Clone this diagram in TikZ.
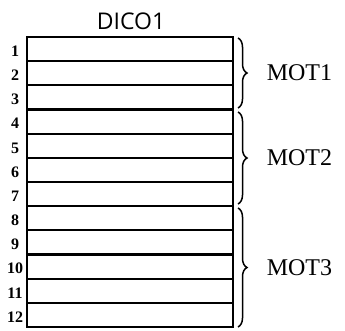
\documentclass[tikz,border=0pt]{standalone}
\usepackage{fontspec}
\setmainfont{Liberation Serif}
\setsansfont{Open Sans}
\usetikzlibrary{decorations.pathreplacing}

\tikzset{
  rowline/.style={line width=2.2pt},
  numlabel/.style={font=\fontsize{16}{16}\selectfont\bfseries, inner sep=0pt},
  motlabel/.style={font=\fontsize{24}{24}\selectfont, anchor=west, inner sep=0pt},
  motbrace/.style={decorate, decoration={brace, amplitude=9pt}, line width=1.5pt},
}

\begin{document}
\begin{tikzpicture}[x=1pt,y=-1pt]
    \useasboundingbox (0,0) rectangle (345,330);

    % title
    \node[font=\sffamily\fontsize{23}{23}\selectfont, inner sep=0pt] (dico) at (131,21) {DICO1};

    % the 12 rows
    \draw[rowline] (27,37) rectangle (233,327);
    \foreach \i in {1,...,11}
      \draw[rowline] (27,{37+24.17*\i}) -- (233,{37+24.17*\i});
    \foreach \i in {1,...,12}
      \node[numlabel] (n\i) at (15,{37+24.17*\i-10}) {\i};

    % words
    \draw[motbrace] (238,38) -- node[motlabel, xshift=28pt] (mot1) {MOT1} (238,108);
    \draw[motbrace] (238,112) -- node[motlabel, xshift=28pt] (mot2) {MOT2} (238,204);
    \draw[motbrace] (238,208) -- node[motlabel, xshift=28pt] (mot3) {MOT3} (238,327);

  \end{tikzpicture}
\end{document}
